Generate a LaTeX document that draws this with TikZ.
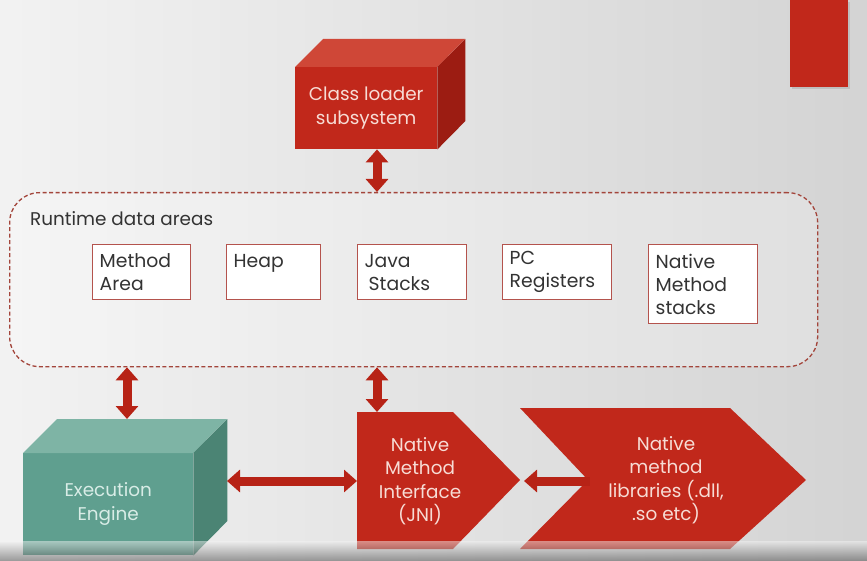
\documentclass[tikz,border=0pt]{standalone}
\usepackage{fontspec}
\setmainfont{Poppins}
\usetikzlibrary{arrows.meta,calc}
\definecolor{jred}{HTML}{C1281B}
\definecolor{jredtop}{HTML}{CF4737}
\definecolor{jredside}{HTML}{9C1C12}
\definecolor{jarrow}{HTML}{B72316}
\definecolor{jteal}{HTML}{5F9F8F}
\definecolor{jtealtop}{HTML}{7EB4A5}
\definecolor{jtealside}{HTML}{4B8474}
\definecolor{jpink}{HTML}{F7DCD5}
\definecolor{jmint}{HTML}{D8ECE6}
\definecolor{jdash}{HTML}{A3453B}
\definecolor{jbox}{HTML}{B4534D}
\definecolor{jtext}{HTML}{333333}
\begin{document}
\begin{tikzpicture}[x=1pt,y=-1pt,
  every node/.style={font=\fontsize{18.4}{24}\selectfont},
  redface/.style={fill=jred, text=jpink, align=center, anchor=north west, inner sep=0pt},
  tealface/.style={fill=jteal, text=jmint, align=center, anchor=north west, inner sep=0pt},
  areabox/.style={draw=jbox, line width=1.4pt, fill=white, anchor=north west, align=left,
     inner xsep=7pt, inner ysep=0pt, text=jtext, font=\fontsize{18.8}{23}\selectfont},
  dblarrow/.style={draw=jarrow, line width=9pt,
     {Triangle[width=22pt,length=13pt]}-{Triangle[width=22pt,length=13pt]}},
  onearrow/.style={draw=jarrow, line width=9pt, {Triangle[width=22pt,length=13pt]}-},
  shapetext/.style={text=jpink, align=center, font=\fontsize{18.4}{23.5}\selectfont}
]
\useasboundingbox (0,0) rectangle (867,561);
% background
\shade[left color=black!5, right color=black!17] (0,0) rectangle (867,561);
% top-right red bar
\fill[black!25] (792,2) rectangle (850,89);
\fill[jred] (790,0) rectangle (848,87);

% runtime data areas container
\node[draw=jdash, dash pattern=on 4pt off 2.5pt, line width=1.3pt, rounded corners=30pt, fill=white, fill opacity=0.25,
      text opacity=1, minimum width=808pt, minimum height=174pt, anchor=north west, inner sep=0pt]
      (rt) at (9,192) {};
\node[anchor=base west, text=jtext, inner sep=0pt] (rtlabel) at (30,226) {Runtime data areas};

% inner areas
\node[areabox, minimum width=98pt, minimum height=55pt, text width=84pt] (ma) at (92,244) {Method\\Area};
\node[areabox, minimum width=94pt, minimum height=55pt, text width=80pt] (hp) at (226,244) {Heap\\\mbox{}};
\node[areabox, minimum width=109pt, minimum height=55pt, text width=95pt] (js) at (357,244) {Java\\\hspace{4pt}Stacks};
\node[areabox, minimum width=109pt, minimum height=55pt, text width=95pt] (pc) at (502,244) {PC\\Registers};
\node[areabox, minimum width=109pt, minimum height=79pt, text width=95pt] (nm) at (648,244) {Native\\Method\\stacks};

% class loader cube
\node[redface, minimum width=142pt, minimum height=82pt] (cl) at (295,67) {Class loader\\subsystem};
\fill[jredtop] (cl.north west) -- ++(28,-28) -- ++(142,0) -- (cl.north east) -- cycle;
\fill[jredside] (cl.north east) -- ++(28,-28) -- ++(0,82) -- (cl.south east) -- cycle;

% execution engine cube
\node[tealface, minimum width=170pt, minimum height=102pt] (ee) at (23,453) {Execution\\Engine};
\fill[jtealtop] (ee.north west) -- ++(34,-34) -- ++(170,0) -- (ee.north east) -- cycle;
\fill[jtealside] (ee.north east) -- ++(34,-34) -- ++(0,102) -- (ee.south east) -- cycle;

% JNI pentagon
\fill[jred] (357,412) -- (453,412) -- (520,480) -- (453,549) -- (357,549) -- cycle;
\node[shapetext] (jni) at (420,481) {Native\\Method\\Interface\\(JNI)};
% native libraries chevron
\fill[jred] (520,408) -- (730,408) -- (806,480) -- (730,549) -- (520,549) -- (588,480) -- cycle;
\node[shapetext] (lib) at (666,480) {Native\\method\\libraries (.dll,\\.so etc)};

% anchor coordinates for connectors
\coordinate (eetop) at (127,419);
\coordinate (eeside) at (227,481);
\coordinate (jnitop) at (377,412);
\coordinate (jnileft) at (357,481);
\coordinate (jnitip) at (524,481);
\coordinate (libnotch) at (590,481);

% connectors
\draw[dblarrow] (cl.south -| jnitop) -- (rt.north -| jnitop);
\draw[dblarrow] (rt.south -| eetop) -- (eetop);
\draw[dblarrow] (rt.south -| jnitop) -- (jnitop);
\draw[dblarrow] (eeside) -- (jnileft);
\draw[onearrow] (jnitip) -- (libnotch);

% bottom video bar shading
\shade[top color=black!5, bottom color=black!75, opacity=0.5] (0,541) rectangle (867,561);
\end{tikzpicture}
\end{document}
